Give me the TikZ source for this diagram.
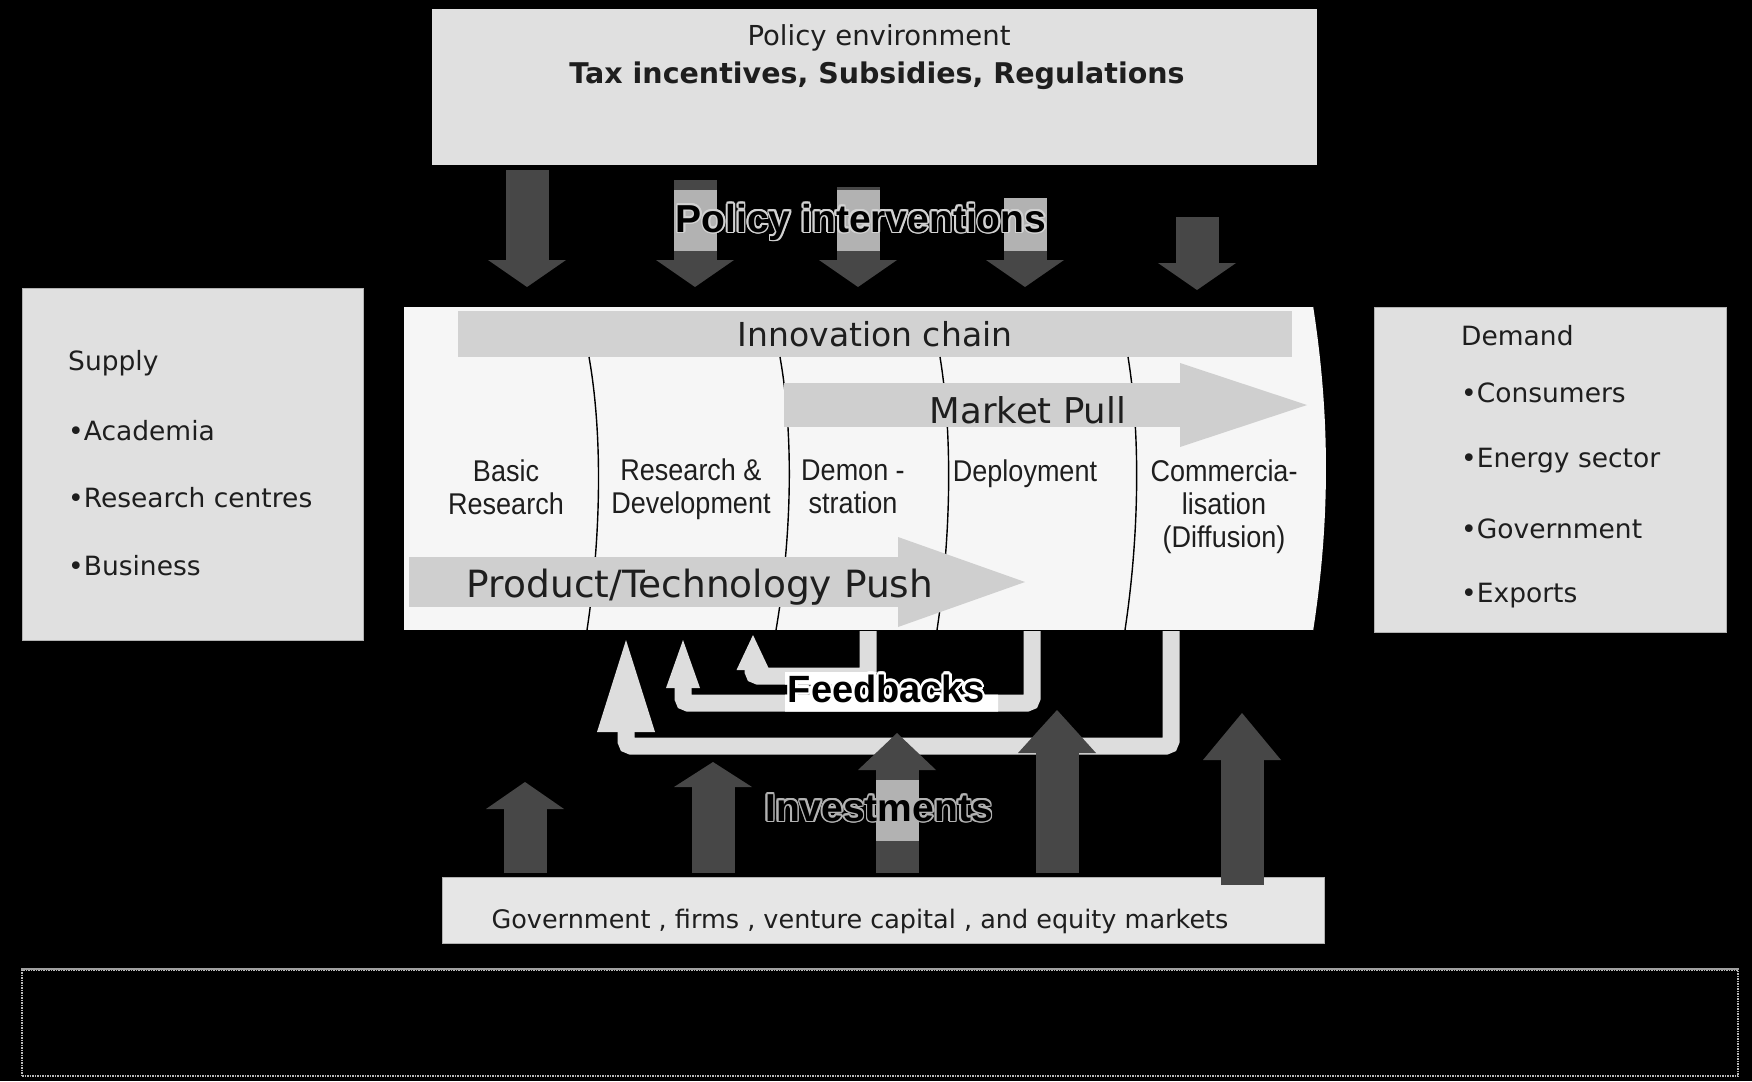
\documentclass[tikz,border=0pt]{standalone}
\usepackage{fontspec}
\setmainfont{DejaVu Sans}
\newfontfamily\chainfont[FakeStretch=0.9]{Liberation Sans}
\newfontfamily\overfont{Liberation Sans}
\usepackage{xcolor}
\usepackage{contour}
\contourlength{1.6pt}
\usepackage{tikz}
\usetikzlibrary{arrows.meta,positioning}

\definecolor{boxgray}{HTML}{E0E0E0}
\definecolor{fundgray}{HTML}{E6E6E6}
\definecolor{chainwhite}{HTML}{F6F6F6}
\definecolor{bargray}{HTML}{D2D2D2}
\definecolor{pushgray}{HTML}{CFCFCF}
\definecolor{darkarrow}{HTML}{474747}
\definecolor{patchgray}{HTML}{B2B2B2}
\definecolor{fbgray}{HTML}{DDDDDD}
\definecolor{inkgray}{HTML}{1E1E1E}

\begin{document}
\begin{tikzpicture}[
    x=1pt, y=-1pt,
    box/.style={rectangle, draw=gray!60, line width=1pt, fill=boxgray, inner sep=0pt},
    item/.style={anchor=base west, inner sep=0pt, text=inkgray, font=\fontsize{26.5}{30}\selectfont},
    stage/.style={anchor=north, align=center, inner sep=0pt, text=inkgray, font=\chainfont\fontsize{30}{33}\selectfont},
    bigtext/.style={anchor=base, inner sep=0pt, text=inkgray, font=\fontsize{35.5}{40}\selectfont},
    ghost/.style={anchor=base, inner sep=0pt, text=black, font=\overfont\bfseries\fontsize{39}{44}\selectfont},
    darrow/.style={draw=darkarrow, line width=43pt, -{Triangle[width=78pt, length=#1, line width=0pt]}},
    darrow/.default=27pt,
    fback/.style 2 args={draw=fbgray, line width=17pt, rounded corners=5pt, -{Triangle[width=#1, length=#2, line width=0pt]}},
    bigarrow/.style 2 args={draw=pushgray, line width=#1, -{Triangle[width=#2, length=127pt, line width=0pt]}},
    divider/.style={draw=black, line width=1.4pt}
]
    \fill[black] (0,0) rectangle (1752,1081);
    \useasboundingbox (0,0) rectangle (1752,1081);

    % empty frame at the bottom
    \node[draw=gray!55, densely dotted, line width=1.5pt, minimum width=1716pt, minimum height=106pt, inner sep=0pt] (frame) at (880,1023) {};
    \draw[gray!75, line width=2pt] (frame.north west) -- (frame.north east);

    % policy environment
    \node[box, draw=none, minimum width=885pt, minimum height=155pt] (policy) at (874,87) {};
    \node[anchor=base, text=inkgray, font=\fontsize{27.5}{32}\selectfont] (polenv) at (879,46) {Policy environment};
    \node[anchor=base, text=inkgray, font=\bfseries\fontsize{28.5}{33}\selectfont] (poltools) at (877,83) {Tax incentives, Subsidies, Regulations};

    \coordinate (pa1) at (527,170);  \coordinate (pb1) at (527,287);
    \coordinate (pa2) at (695,180);  \coordinate (pb2) at (695,287);
    \coordinate (pa3) at (858,187);  \coordinate (pb3) at (858,287);
    \coordinate (pa4) at (1025,198); \coordinate (pb4) at (1025,287);
    \coordinate (pa5) at (1197,217); \coordinate (pb5) at (1197,290);
    \draw[darrow] (pa1) -- (pb1);
    \draw[darrow] (pa2) -- (pb2);
    \draw[darrow] (pa3) -- (pb3);
    \draw[darrow] (pa4) -- (pb4);
    \draw[darrow] (pa5) -- (pb5);
    \begin{scope}
        \clip (674,190) rectangle (1048,250);
        \draw[darrow, draw=patchgray] (pa2) -- (pb2);
        \draw[darrow, draw=patchgray] (pa3) -- (pb3);
        \draw[darrow, draw=patchgray] (pa4) -- (pb4);
    \end{scope}
    \node[ghost] (interv) at (861,232) {\contour{gray!35}{Policy interventions}};

    % supply and demand
    \node[box, minimum width=341pt, minimum height=352pt] (supply) at (192.5,464) {};
    \node[item] (sup0) at (68,370) {Supply};
    \node[item] (sup1) at (68,440) {•Academia};
    \node[item] (sup2) at (68,507) {•Research centres};
    \node[item] (sup3) at (68,575) {•Business};

    \node[box, minimum width=352pt, minimum height=325pt] (demand) at (1550,469.5) {};
    \node[item] (dem0) at (1461,345) {Demand};
    \node[item] (dem1) at (1461,402) {•Consumers};
    \node[item] (dem2) at (1461,467) {•Energy sector};
    \node[item] (dem3) at (1461,538) {•Government};
    \node[item] (dem4) at (1461,602) {•Exports};

    % innovation chain
    \node[rectangle, fill=chainwhite, minimum width=909pt, minimum height=323pt, inner sep=0pt] (chain) at (858.5,468.5) {};
    \fill[chainwhite] (chain.north east) .. controls +(17,110) and +(17,-110) .. (chain.south east) -- cycle;
    \node[rectangle, fill=bargray, minimum width=834pt, minimum height=46pt, inner sep=0pt, text=inkgray, font=\fontsize{33}{38}\selectfont] (innov) at (875,334) {Innovation chain};

    \draw[divider] (589,357) .. controls (602,430) and (602,530) .. (587,630);
    \draw[divider] (780,357) .. controls (793,430) and (793,530) .. (776,630);
    \draw[divider] (940,357) .. controls (952,430) and (952,530) .. (937,630);
    \draw[divider] (1128,357) .. controls (1140,430) and (1140,530) .. (1125,630);

    \node[stage] (basic) at (506,460) {Basic\\Research};
    \node[stage] (rnd) at (691,459) {Research \&\\Development};
    \node[stage] (demo) at (853,460) {Demon -\\stration};
    \node[stage] (deploy) at (1025,460) {Deployment};
    \node[stage] (comm) at (1224,460) {Commercia-\\lisation\\(Diffusion)};

    \coordinate (pullfrom) at (784,405); \coordinate (pullto) at (1307,405);
    \draw[bigarrow={44pt}{84pt}] (pullfrom) -- (pullto);
    \node[bigtext] (pull) at (1028,423) {Market Pull};

    \coordinate (pushfrom) at (409,582); \coordinate (pushto) at (1025,582);
    \draw[bigarrow={50pt}{90pt}] (pushfrom) -- (pushto);
    \node[bigtext, font=\fontsize{37.5}{42}\selectfont] (push) at (700,597) {Product/Technology Push};

    % feedbacks
    \coordinate (fo1) at (1171,631); \coordinate (fo2) at (626,640);
    \coordinate (fm1) at (1032,631); \coordinate (fm2) at (683,640);
    \coordinate (fi1) at (868,631);  \coordinate (fi2) at (753,635);
    \draw[fback={58pt}{92pt}] (fo1) -- ++(0,115) -| (fo2);
    \draw[fback={34pt}{48pt}] (fm1) -- ++(0,72) -| (fm2);
    \draw[fback={33pt}{35pt}] (fi1) -- ++(0,45) -| (fi2);
    \begin{scope}
        \clip (785,672) rectangle (998,714);
        \draw[fback={34pt}{48pt}, draw=white] (fm1) -- ++(0,72) -| (fm2);
        \draw[fback={33pt}{35pt}, draw=white] (fi1) -- ++(0,45) -| (fi2);
    \end{scope}
    \node[ghost, font=\overfont\bfseries\fontsize{38}{44}\selectfont] (fbtext) at (886,702) {\contourlength{2.5pt}\contour{white}{Feedbacks}};

    % investments
    \node[box, fill=fundgray, minimum width=882pt, minimum height=66pt] (funding) at (883,910) {};
    \node[anchor=base, text=inkgray, font=\fontsize{25.5}{30}\selectfont] (fundtext) at (860,928) {Government , firms , venture capital , and equity markets};

    \coordinate (ia1) at (525,873);  \coordinate (ib1) at (525,782);
    \coordinate (ia2) at (713,873);  \coordinate (ib2) at (713,762);
    \coordinate (ia3) at (897,873);  \coordinate (ib3) at (897,733);
    \coordinate (ia4) at (1057,873); \coordinate (ib4) at (1057,710);
    \coordinate (ia5) at (1242,885); \coordinate (ib5) at (1242,713);
    \draw[darrow=27pt] (ia1) -- (ib1);
    \draw[darrow=25pt] (ia2) -- (ib2);
    \draw[darrow=37pt] (ia3) -- (ib3);
    \draw[darrow=43pt] (ia4) -- (ib4);
    \draw[darrow=47pt] (ia5) -- (ib5);
    \begin{scope}
        \clip (764,780) rectangle (994,840);
        \draw[darrow=37pt, draw=patchgray] (ia3) -- (ib3);
    \end{scope}
    \node[ghost] (invtext) at (879,821) {\contour{gray!60}{Investments}};
\end{tikzpicture}
\end{document}
